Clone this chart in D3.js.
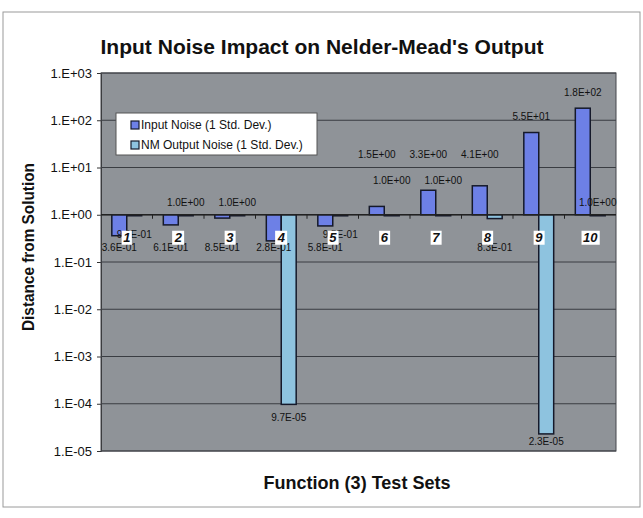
<!DOCTYPE html>
<html>
<head>
<meta charset="utf-8">
<script src="https://cdn.jsdelivr.net/npm/d3@7"></script>
<style>
  body { margin: 0; background: #fff; }
  text { font-family: 'Liberation Sans', Arial, sans-serif; }
</style>
</head>
<body>
<script>
// test sets 1..10, two series
let categories = ['1','2','3','4','5','6','7','8','9','10'];
let seriesNames = ['Input Noise (1 Std. Dev.)', 'NM Output Noise (1 Std. Dev.)'];
let inputNoise = [3.6e-1, 6.1e-1, 8.5e-1, 2.8e-1, 5.8e-1, 1.5, 3.3, 4.1, 55, 180];
let outputNoise = [9.6e-1, 1.0, 1.0, 9.7e-5, 9.5e-1, 1.0, 1.0, 8.3e-1, 2.3e-5, 1.0];
let yTicks = [1e3, 1e2, 1e1, 1, 1e-1, 1e-2, 1e-3, 1e-4, 1e-5];

let width = 643, height = 518;
let margin = { top: 73, right: 27, bottom: 67, left: 101 };
let colors = ['#6d80e6', '#8ec3df'];

let svg = d3.select('body').append('svg')
  .attr('width', width)
  .attr('height', height);

// outer chart frame
svg.append('rect')
  .attr('x', 3).attr('y', 12)
  .attr('width', 637).attr('height', 495)
  .attr('fill', '#fff')
  .attr('stroke', '#9a9a9a');

let x = d3.scaleBand()
  .domain(categories)
  .range([margin.left, width - margin.right]);

let barW = x.bandwidth() * 0.29;
let sub = d3.scaleBand()
  .domain([0, 1])
  .range([x.bandwidth() / 2 - barW, x.bandwidth() / 2 + barW]);

let y = d3.scaleLog()
  .domain([1e-5, 1e3])
  .range([height - margin.bottom, margin.top]);

let base = y(1);

// plot area
svg.append('rect')
  .attr('x', margin.left).attr('y', margin.top)
  .attr('width', width - margin.right - margin.left)
  .attr('height', y(1e-5) - margin.top)
  .attr('fill', '#8f9398');

let expFmt = d => {
  let e = Math.round(Math.log10(d));
  return '1.E' + (e < 0 ? '-' : '+') + String(Math.abs(e)).padStart(2, '0');
};
let valFmt = v => {
  let p = v.toExponential(1).split('e');
  let e = +p[1];
  return p[0] + 'E' + (e < 0 ? '-' : '+') + String(Math.abs(e)).padStart(2, '0');
};

// y axis + gridlines
svg.append('g')
  .attr('transform', `translate(${margin.left},0)`)
  .call(d3.axisLeft(y).tickValues(yTicks).tickFormat(expFmt).tickSizeOuter(0).tickSize(4).tickPadding(5))
  .call(g => g.select('.domain').attr('stroke', '#333'))
  .call(g => g.selectAll('.tick line').attr('stroke', '#333'))
  .call(g => g.selectAll('.tick text').attr('font-size', 13).attr('fill', '#111')
    .style('font-family', "'Liberation Sans', Arial, sans-serif"));

svg.append('g')
  .selectAll('line')
  .data(yTicks)
  .enter()
  .append('line')
  .attr('x1', margin.left).attr('x2', width - margin.right)
  .attr('y1', d => y(d)).attr('y2', d => y(d))
  .attr('stroke', '#3a3d42')
  .attr('stroke-width', 1);

svg.append('rect')
  .attr('x', margin.left).attr('y', margin.top)
  .attr('width', width - margin.right - margin.left)
  .attr('height', y(1e-5) - margin.top)
  .attr('fill', 'none')
  .attr('stroke', '#44474c');

// bars
let rows = [];
categories.forEach((c, i) => {
  rows.push({ cat: c, s: 0, v: inputNoise[i], other: outputNoise[i] });
  rows.push({ cat: c, s: 1, v: outputNoise[i], other: inputNoise[i] });
});

svg.append('g')
  .selectAll('rect')
  .data(rows)
  .enter()
  .append('rect')
  .attr('x', d => x(d.cat) + sub(d.s))
  .attr('y', d => Math.min(y(d.v), base))
  .attr('width', sub.bandwidth())
  .attr('height', d => Math.max(Math.abs(y(d.v) - base), 1))
  .attr('fill', d => colors[d.s])
  .attr('stroke', '#15192a')
  .attr('stroke-width', 1.5);

// category axis crossing at 1.0
svg.append('line')
  .attr('x1', margin.left).attr('x2', width - margin.right)
  .attr('y1', base).attr('y2', base)
  .attr('stroke', '#222').attr('stroke-width', 1.5);

svg.append('g')
  .selectAll('line')
  .data(categories.slice(1))
  .enter()
  .append('line')
  .attr('x1', d => x(d)).attr('x2', d => x(d))
  .attr('y1', base).attr('y2', base + 4)
  .attr('stroke', '#222');

// value labels, placed roughly like excel did
let labelY = d => {
  if (d.s === 0) {
    if (d.v >= 1) return Math.min(y(d.v) - 16, base - 60);
    return base + 33;
  }
  if (d.v < 1e-2) return Math.min(y(d.v) + 13, y(1e-5) - 10);
  if (d.v < 0.995) return d.other < 1 ? base + 20 : base + 33;
  return (d.other > 1 && d.other < 10) ? base - 34 : base - 12;
};

svg.append('g')
  .selectAll('text')
  .data(rows)
  .enter()
  .append('text')
  .attr('x', d => x(d.cat) + sub(d.s) + sub.bandwidth() / 2)
  .attr('y', d => labelY(d))
  .attr('dy', '0.35em')
  .attr('text-anchor', 'middle')
  .attr('font-size', 10)
  .attr('fill', '#111')
  .text(d => valFmt(d.v));

// category numbers in white boxes
let catG = svg.append('g')
  .selectAll('g')
  .data(categories)
  .enter()
  .append('g')
  .attr('transform', d => `translate(${x(d) + x.bandwidth() / 2},${base + 23})`);

catG.append('text')
  .attr('text-anchor', 'middle')
  .attr('dy', '0.36em')
  .attr('font-size', 13)
  .attr('font-weight', 'bold')
  .attr('font-style', 'italic')
  .attr('fill', '#111')
  .text(d => d);

catG.each(function() {
  let t = d3.select(this).select('text');
  let bb = t.node().getBBox();
  d3.select(this).insert('rect', 'text')
    .attr('x', bb.x - 1.5).attr('y', -7)
    .attr('width', bb.width + 3).attr('height', 14)
    .attr('fill', '#fff');
});

// legend
let legend = svg.append('g').attr('transform', 'translate(116,113)');
legend.append('rect')
  .attr('width', 201).attr('height', 42)
  .attr('fill', '#fff')
  .attr('stroke', '#555');

let items = legend.selectAll('g')
  .data(seriesNames)
  .enter()
  .append('g')
  .attr('transform', (d, i) => `translate(15,${12 + i * 20})`);

items.append('rect')
  .attr('x', 0).attr('y', -4)
  .attr('width', 8).attr('height', 8)
  .attr('fill', (d, i) => colors[i])
  .attr('stroke', '#15192a')
  .attr('stroke-width', 1.2);

items.append('text')
  .attr('x', 10)
  .attr('dy', '0.35em')
  .attr('font-size', 12)
  .attr('fill', '#111')
  .text(d => d);

// titles
svg.append('text')
  .attr('x', 322).attr('y', 54)
  .attr('text-anchor', 'middle')
  .attr('font-size', 21)
  .attr('font-weight', 'bold')
  .attr('fill', '#111')
  .attr('textLength', 443)
  .attr('lengthAdjust', 'spacingAndGlyphs')
  .text("Input Noise Impact on Nelder-Mead's Output");

svg.append('text')
  .attr('x', 357).attr('y', 489)
  .attr('text-anchor', 'middle')
  .attr('font-size', 18)
  .attr('font-weight', 'bold')
  .attr('fill', '#111')
  .attr('textLength', 187)
  .attr('lengthAdjust', 'spacingAndGlyphs')
  .text('Function (3) Test Sets');

svg.append('text')
  .attr('transform', 'translate(34,247) rotate(-90)')
  .attr('text-anchor', 'middle')
  .attr('font-size', 16)
  .attr('font-weight', 'bold')
  .attr('fill', '#111')
  .attr('textLength', 168)
  .attr('lengthAdjust', 'spacingAndGlyphs')
  .text('Distance from Solution');
</script>
</body>
</html>
